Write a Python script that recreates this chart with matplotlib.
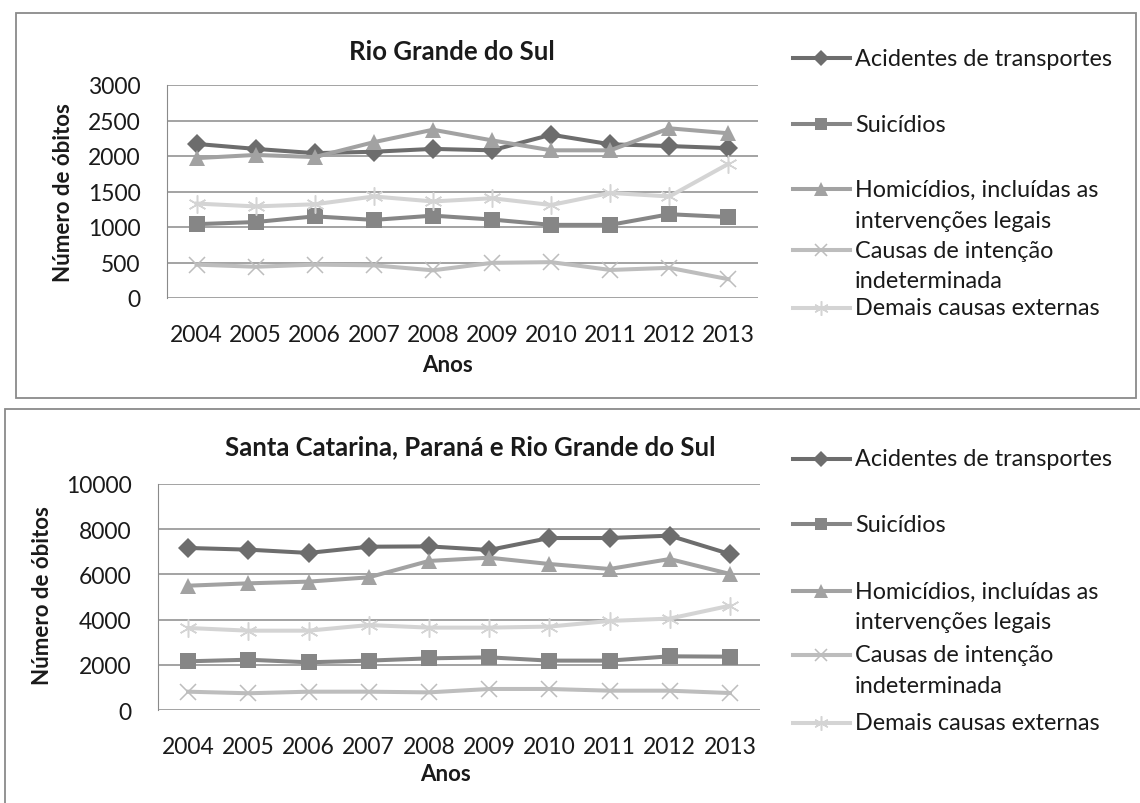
import matplotlib.pyplot as plt
from matplotlib.lines import Line2D
from matplotlib.patches import Rectangle

W, H = 1140, 804

anos = ['2004', '2005', '2006', '2007', '2008', '2009', '2010', '2011', '2012', '2013']

series = ['Acidentes de transportes', 'Suicídios',
          'Homicídios, incluídas as\nintervenções legais',
          'Causas de intenção\nindeterminada', 'Demais causas externas']

# Rio Grande do Sul
rs_acidentes = [2170, 2100, 2040, 2060, 2100, 2080, 2300, 2165, 2140, 2110]
rs_suicidios = [1040, 1070, 1150, 1100, 1160, 1105, 1030, 1030, 1180, 1140]
rs_homicidios = [1970, 2015, 1985, 2195, 2370, 2220, 2080, 2080, 2390, 2320]
rs_indeterminada = [470, 440, 470, 460, 390, 495, 505, 395, 425, 265]
rs_demais = [1330, 1290, 1320, 1430, 1360, 1405, 1310, 1480, 1430, 1890]

# Santa Catarina, Parana e Rio Grande do Sul
sul_acidentes = [7170, 7095, 6950, 7225, 7240, 7080, 7610, 7610, 7715, 6900]
sul_suicidios = [2155, 2225, 2110, 2185, 2285, 2330, 2185, 2185, 2375, 2360]
sul_homicidios = [5500, 5605, 5680, 5870, 6595, 6740, 6460, 6240, 6680, 6020]
sul_indeterminada = [810, 740, 810, 810, 780, 930, 930, 855, 855, 750]
sul_demais = [3630, 3510, 3510, 3760, 3645, 3645, 3690, 3940, 4045, 4615]

estilos = [
    dict(color='#6d6d6d', marker='D', ms=10, mew=0),
    dict(color='#868686', marker='s', ms=11, mew=0),
    dict(color='#a2a2a2', marker='^', ms=12, mew=0),
    dict(color='#bdbdbd', marker='x', ms=11, mew=1.1),
    dict(color='#d4d4d4', marker=(6, 2, 0), ms=13, mew=1.1),
]

plt.rcParams['font.family'] = ['Lato', 'DejaVu Sans']

fig = plt.figure(figsize=(W / 100, H / 100), dpi=100)


def fx(px):
    return px / W


def fy(py):
    return 1 - py / H


def painel(borda, area, titulo, pos_titulo, pos_ylabel, pos_xlabel,
           dados, ymax, ystep, leg_ys):
    x0, y0, x1, y1 = borda
    fig.patches.append(Rectangle((fx(x0), fy(y1)), fx(x1) - fx(x0), fy(y0) - fy(y1),
                                 transform=fig.transFigure, fill=False,
                                 edgecolor='#8a8a8a', lw=1.3))
    l, t, r, b = area
    ax = fig.add_axes([fx(l), fy(b), fx(r) - fx(l), fy(t) - fy(b)])
    x = range(len(anos))
    for vals, st in zip(dados, estilos):
        ax.plot(x, vals, color=st['color'], lw=2.9, marker=st['marker'],
                ms=st['ms'], mfc=st['color'], mec=st['color'], mew=st['mew'],
                clip_on=False, zorder=3)
    ax.set_xlim(-0.5, len(anos) - 0.5)
    ax.set_ylim(0, ymax)
    ax.set_yticks(range(0, ymax + 1, ystep))
    ax.set_xticks(list(x))
    ax.set_xticklabels(anos)
    ax.tick_params(length=0, labelsize=16.5, colors='#1a1a1a')
    ax.tick_params(axis='y', pad=19)
    ax.tick_params(axis='x', pad=19)
    for s in ['top', 'right', 'bottom']:
        ax.spines[s].set_visible(False)
    ax.spines['left'].set_color('#8a8a8a')
    ax.grid(axis='y', color='#8a8a8a', lw=1.1)
    ax.set_axisbelow(True)

    fig.text(fx(pos_titulo[0]), fy(pos_titulo[1]), titulo, ha='center', va='center',
             fontsize=18.5, fontweight='bold', color='#1a1a1a')
    fig.text(fx(pos_ylabel[0]), fy(pos_ylabel[1]), 'Número de óbitos', ha='center',
             va='center', rotation=90, fontsize=16, fontweight='bold', color='#1a1a1a')
    fig.text(fx(pos_xlabel[0]), fy(pos_xlabel[1]), 'Anos', ha='center', va='center',
             fontsize=16, fontweight='bold', color='#1a1a1a')

    # legenda desenhada a mao: linha + marcador + texto
    for nome, st, ly in zip(series, estilos, leg_ys):
        fig.lines.append(Line2D([fx(793), fx(850)], [fy(ly), fy(ly)],
                                transform=fig.transFigure, color=st['color'], lw=2.9))
        fig.lines.append(Line2D([fx(821)], [fy(ly)], transform=fig.transFigure,
                                ls='none', marker=st['marker'], ms=st['ms'] * 0.8,
                                mfc=st['color'], mec=st['color'], mew=st['mew']))
        for k, linha in enumerate(nome.split('\n')):
            fig.text(fx(855), fy(ly + 31 * k), linha, ha='left', va='center',
                     fontsize=16.8, color='#1a1a1a')
    return ax


painel((16, 14, 1136, 399), (167, 86, 758, 299), 'Rio Grande do Sul',
       (452, 52), (64, 193), (447, 365),
       [rs_acidentes, rs_suicidios, rs_homicidios, rs_indeterminada, rs_demais],
       3000, 500, [59, 125, 190, 251, 309])

painel((5, 410, 1150, 812), (158, 485, 760, 711),
       'Santa Catarina, Paraná e Rio Grande do Sul',
       (470, 447), (43, 596), (445, 775),
       [sul_acidentes, sul_suicidios, sul_homicidios, sul_indeterminada, sul_demais],
       10000, 2000, [460, 525, 592, 656, 724])

fig.savefig('out.png', dpi=100, facecolor='white')
